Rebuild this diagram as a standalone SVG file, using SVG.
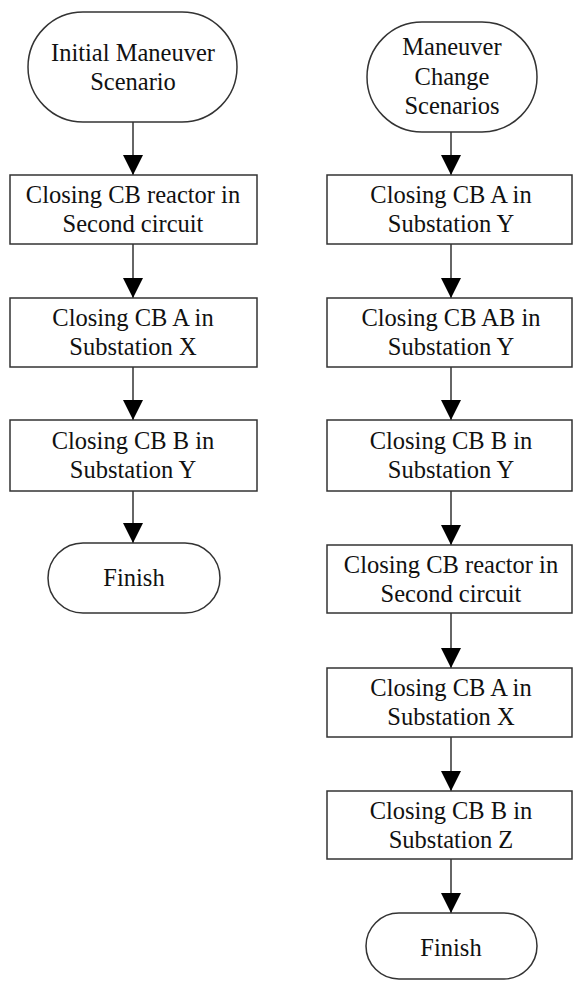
<svg xmlns="http://www.w3.org/2000/svg" width="573" height="981" viewBox="0 0 573 981">
<defs>
<style>
.shape{fill:#fff;stroke:#333;stroke-width:1.5}
.t{font-family:"Liberation Serif","Times New Roman",serif;font-size:24.5px;fill:#111;text-anchor:middle}
.c{stroke:#333;stroke-width:1.5;fill:none;marker-end:url(#ah)}
</style>
<marker id="ah" markerWidth="20" markerHeight="20" refX="20" refY="10" orient="auto" markerUnits="userSpaceOnUse">
<path d="M0,0 L20,10 L0,20 Z" fill="#000"/>
</marker>
</defs>
<rect width="573" height="981" fill="#fff"/>
<g id="connectors">
<line class="c" x1="133" y1="122" x2="133" y2="175"/>
<line class="c" x1="133" y1="244" x2="133" y2="298"/>
<line class="c" x1="133" y1="367" x2="133" y2="420"/>
<line class="c" x1="133" y1="491" x2="133" y2="543"/>
<line class="c" x1="451" y1="132" x2="451" y2="175"/>
<line class="c" x1="451" y1="244" x2="451" y2="298"/>
<line class="c" x1="451" y1="367" x2="451" y2="420"/>
<line class="c" x1="451" y1="491" x2="451" y2="545"/>
<line class="c" x1="451" y1="613" x2="451" y2="668"/>
<line class="c" x1="451" y1="737" x2="451" y2="791"/>
<line class="c" x1="451" y1="859" x2="451" y2="913"/>
</g>
<g id="startL">
<rect class="shape" x="28" y="12" width="209" height="110" rx="55" ry="55"/>
<text class="t" x="133" y="61">Initial Maneuver</text>
<text class="t" x="133" y="90">Scenario</text>
</g>
<g id="L1">
<rect class="shape" x="10" y="175" width="247" height="69"/>
<text class="t" x="133" y="203">Closing CB reactor in</text>
<text class="t" x="133" y="232">Second circuit</text>
</g>
<g id="L2">
<rect class="shape" x="10" y="298" width="247" height="69"/>
<text class="t" x="133" y="326">Closing CB A in</text>
<text class="t" x="133" y="355">Substation X</text>
</g>
<g id="L3">
<rect class="shape" x="10" y="420" width="247" height="71"/>
<text class="t" x="133" y="449">Closing CB B in</text>
<text class="t" x="133" y="478">Substation Y</text>
</g>
<g id="finishL">
<rect class="shape" x="48" y="543" width="172" height="70" rx="35" ry="35"/>
<text class="t" x="134" y="586">Finish</text>
</g>
<g id="startR">
<rect class="shape" x="367" y="22" width="170" height="110" rx="55" ry="55"/>
<text class="t" x="452" y="55">Maneuver</text>
<text class="t" x="452" y="85">Change</text>
<text class="t" x="452" y="114">Scenarios</text>
</g>
<g id="R1">
<rect class="shape" x="327" y="175" width="245" height="69"/>
<text class="t" x="451" y="203">Closing CB A in</text>
<text class="t" x="451" y="232">Substation Y</text>
</g>
<g id="R2">
<rect class="shape" x="327" y="298" width="245" height="69"/>
<text class="t" x="451" y="326">Closing CB AB in</text>
<text class="t" x="451" y="355">Substation Y</text>
</g>
<g id="R3">
<rect class="shape" x="327" y="420" width="245" height="71"/>
<text class="t" x="451" y="449">Closing CB B in</text>
<text class="t" x="451" y="478">Substation Y</text>
</g>
<g id="R4">
<rect class="shape" x="327" y="545" width="245" height="68"/>
<text class="t" x="451" y="573">Closing CB reactor in</text>
<text class="t" x="451" y="602">Second circuit</text>
</g>
<g id="R5">
<rect class="shape" x="327" y="668" width="245" height="69"/>
<text class="t" x="451" y="696">Closing CB A in</text>
<text class="t" x="451" y="725">Substation X</text>
</g>
<g id="R6">
<rect class="shape" x="327" y="791" width="245" height="68"/>
<text class="t" x="451" y="819">Closing CB B in</text>
<text class="t" x="451" y="848">Substation Z</text>
</g>
<g id="finishR">
<rect class="shape" x="366" y="913" width="171" height="66" rx="33" ry="33"/>
<text class="t" x="451" y="956">Finish</text>
</g>
</svg>
